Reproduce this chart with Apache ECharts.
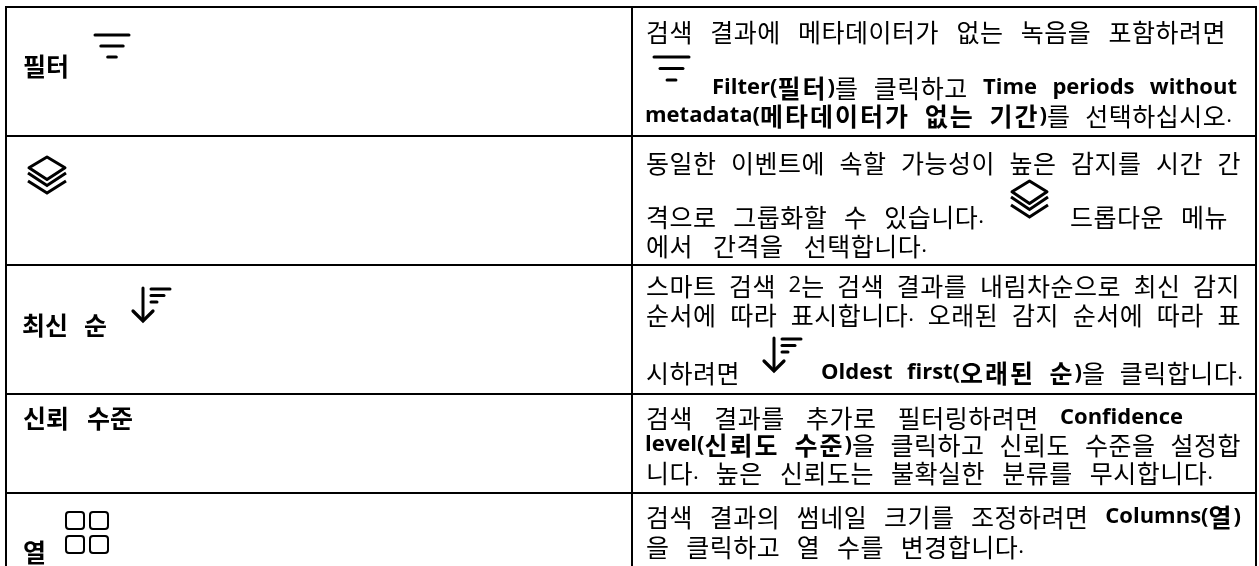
<!DOCTYPE html>
<html><head><meta charset="utf-8">
<style>html,body{margin:0;padding:0;background:#fff}#c{width:1259px;height:566px}</style>
<script src="https://cdn.jsdelivr.net/npm/echarts@6/dist/echarts.min.js"></script>
</head><body><div id="c"></div>
<script>
// Content: **bold** marks emphasised runs
const leftLabels = ["필터", "최신 순", "신뢰 수준", "열"];
const descRow1 = ["검색 결과에 메타데이터가 없는 녹음을 포함하려면", "**Filter(필터)**를 클릭하고 **Time periods without**", "**metadata(메타데이터가 없는 기간)**를 선택하십시오."];
const descRow2 = ["동일한 이벤트에 속할 가능성이 높은 감지를 시간 간", "격으로 그룹화할 수 있습니다.", "드롭다운 메뉴", "에서 간격을 선택합니다."];
const descRow3 = ["스마트 검색 2는 검색 결과를 내림차순으로 최신 감지", "순서에 따라 표시합니다. 오래된 감지 순서에 따라 표", "시하려면", "**Oldest first(오래된 순)**을 클릭합니다."];
const descRow4 = ["검색 결과를 추가로 필터링하려면 **Confidence**", "**level(신뢰도 수준)**을 클릭하고 신뢰도 수준을 설정합", "니다. 높은 신뢰도는 불확실한 분류를 무시합니다."];
const descRow5 = ["검색 결과의 썸네일 크기를 조정하려면 **Columns(열)**", "을 클릭하고 열 수를 변경합니다."];

// Layout, kept apart from the content: [x start, x end, y centre]
const descLayout = [
  [646,1226,32],[712,1237,88],[645,1232,116],
  [646,1241,163],[646,984,217],[1070,1228,217],[646,927,246],
  [646,1240,286],[646,1241,315],[646,742,373],[821,1243,373],
  [646,1183,418],[645,1241,445],[646,1213,473],
  [646,1241,517],[646,1024,547]
];
const leftLayout = [[23,69,66],[22,107,325],[23,133,418],[23,45,552]];
const rowLines = [7,136,265,394,493];
const colLines = [6,632,1256];
const BOTTOM = 566;

const HANGUL_SIZE = 25, LATIN_SIZE = 22;
const SPACING_REGULAR = 0.5, SPACING_BOLD = 2;
const ctx = document.createElement('canvas').getContext('2d');
const isHangul = s => /[\uAC00-\uD7A3]/.test(s);
function fontOf(txt, bold){
  return (isHangul(txt)
    ? (bold?'bold ':'')+HANGUL_SIZE+'px "Noto Sans CJK KR"'
    : (bold?'bold ':'')+LATIN_SIZE+'px "Open Sans"');
}
function parseWords(line, allBold, tracked){
  let bold = !!allBold; const words=[[]];
  line.split(/(\*\*)/).forEach(p=>{
    if(p==='**'){ if(!allBold) bold=!bold; return; }
    p.split(/( )/).forEach(q=>{
      if(q===' '){ words.push([]); return; }
      if(!q) return;
      (q.match(/[\uAC00-\uD7A3]+|[^\uAC00-\uD7A3]+/g)||[]).forEach(t=>{
        const font=fontOf(t,bold); ctx.font=font;
        if(tracked && isHangul(t)){
          const sp=bold?SPACING_BOLD:SPACING_REGULAR;
          Array.from(t).forEach(c=>words[words.length-1].push({t:c,bold,font,w:ctx.measureText(c).width+sp}));
        } else {
          words[words.length-1].push({t,bold,font,w:ctx.measureText(t).width});
        }
      });
    });
  });
  return words.filter(w=>w.length);
}
function placeLine(line, lay, allBold, out){
  const words=parseWords(line,allBold,!allBold);
  const ww=words.map(w=>w.reduce((a,r)=>a+r.w,0));
  const sum=ww.reduce((a,b)=>a+b,0);
  const gap=words.length>1?(lay[1]-lay[0]-sum)/(words.length-1):0;
  let x=lay[0];
  words.forEach((w,i)=>{
    w.forEach(r=>{
      out.push({type:'text',silent:true,style:{text:r.t,x:x,y:lay[2],font:r.font,fill:'#000',textVerticalAlign:'middle',textAlign:'left'}});
      x+=r.w;
    });
    x+=gap;
  });
}
const line=(x1,y1,x2,y2,w)=>({type:'line',silent:true,shape:{x1,y1,x2,y2},style:{stroke:'#000',lineWidth:w,lineCap:'round',fill:null}});
function filterIcon(out,x,y,w,dy){
  out.push(line(x+1,y,x+w-1,y,3));
  out.push(line(x+w*0.19,y+dy,x+w*0.81,y+dy,3));
  out.push(line(x+w*0.38,y+dy*2,x+w*0.62,y+dy*2,3));
}
function layersIcon(out,x,y,w,h){
  out.push({type:'polygon',silent:true,shape:{points:[[x+w/2,y+1],[x+w-1,y+h*0.31],[x+w/2,y+h*0.62],[x+1,y+h*0.31]]},style:{stroke:'#000',lineWidth:3,fill:null,lineJoin:'round'}});
  [[0.45,0.80],[0.66,1]].forEach(p=>{
    out.push({type:'polyline',silent:true,shape:{points:[[x,y+h*p[0]],[x+w/2,y+h*p[1]-1],[x+w,y+h*p[0]]]},style:{stroke:'#000',lineWidth:3,fill:null}});
  });
}
function sortIcon(out,x,y){
  out.push(line(x+11,y+1,x+11,y+33,3));
  out.push({type:'polyline',silent:true,shape:{points:[[x+1,y+24],[x+11,y+34],[x+21,y+24]]},style:{stroke:'#000',lineWidth:3.2,fill:null,lineCap:'round'}});
  out.push(line(x+19,y+2,x+38,y+2,3));
  out.push(line(x+19,y+8.5,x+32,y+8.5,3));
  out.push(line(x+19,y+15,x+25,y+15,3));
}
function gridIcon(out,x,y){
  [[0,0],[24,0],[0,24],[24,24]].forEach(p=>{
    out.push({type:'rect',silent:true,shape:{x:x+p[0],y:y+p[1],width:18,height:17,r:3},style:{stroke:'#000',lineWidth:2,fill:null}});
  });
}

const g=[];
rowLines.forEach(y=>g.push({type:'line',silent:true,shape:{x1:colLines[0]-1,y1:y,x2:colLines[2]+1,y2:y},style:{stroke:'#000',lineWidth:2}}));
colLines.forEach(x=>g.push({type:'line',silent:true,shape:{x1:x,y1:rowLines[0]-1,x2:x,y2:BOTTOM},style:{stroke:'#000',lineWidth:2}}));
leftLabels.forEach((t,i)=>placeLine(t,leftLayout[i],true,g));
[].concat(descRow1,descRow2,descRow3,descRow4,descRow5).forEach((t,i)=>placeLine(t,descLayout[i],false,g));
filterIcon(g,94,35,36,11);
filterIcon(g,653,57,37,11.5);
layersIcon(g,28,156,38,38);
layersIcon(g,1011,180,37,38);
sortIcon(g,132,287);
sortIcon(g,763,337);
gridIcon(g,66,512);

const chart=echarts.init(document.getElementById('c'),null,{renderer:'canvas'});
chart.setOption({animation:false,backgroundColor:'#fff',graphic:{elements:g}});
</script></body></html>
